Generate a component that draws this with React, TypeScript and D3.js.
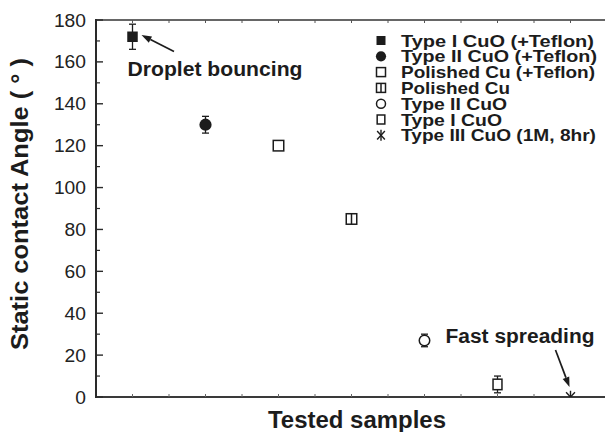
import React from "react";
import * as d3 from "d3";

const samples = [
  "Type I CuO (+Teflon)",
  "Type II CuO (+Teflon)",
  "Polished Cu (+Teflon)",
  "Polished Cu",
  "Type II CuO",
  "Type I CuO",
  "Type III CuO (1M, 8hr)",
];
const angles = [172, 130, 120, 85, 27, 6, 0];
const errors = [6, 4, 0, 0, 3, 4, 0];
const markers = ["sqFill", "circFill", "sqOpen", "sqHalf", "circOpen", "sqOpenSmall", "star"];
const yTicks = [0, 20, 40, 60, 80, 100, 120, 140, 160, 180];
const yMinor = [10, 30, 50, 70, 90, 110, 130, 150, 170];

const W = 605;
const H = 432;
const L = 96;
const T = 20;
const B = 397;
const INK = "#1c1c1c";
const FONT = "'Liberation Sans', Arial, Helvetica, sans-serif";

const x = d3.scaleLinear().domain([0, 14]).range([L, 607]);
const y = d3.scaleLinear().domain([0, 180]).range([B, T]);
const xTicks = d3.range(1, 15);

function Marker({ kind, cx, cy, s }: { kind: string; cx: number; cy: number; s: number }) {
  const h = s / 2;
  const sw = 1.5;
  switch (kind) {
    case "sqFill":
      return <rect x={cx - h} y={cy - h} width={s} height={s} fill={INK} />;
    case "circFill":
      return <circle cx={cx} cy={cy} r={h + 0.6} fill={INK} />;
    case "sqOpen":
      return <rect x={cx - h} y={cy - h} width={s} height={s} fill="#fff" stroke={INK} strokeWidth={sw} />;
    case "sqOpenSmall":
      return <rect x={cx - h * 0.85} y={cy - h} width={s * 0.85} height={s} fill="#fff" stroke={INK} strokeWidth={sw} />;
    case "sqHalf":
      return (
        <g>
          <rect x={cx - h} y={cy - h} width={s} height={s} fill="#fff" stroke={INK} strokeWidth={sw} />
          <line x1={cx} x2={cx} y1={cy - h} y2={cy + h} stroke={INK} strokeWidth={sw} />
        </g>
      );
    case "circOpen":
      return <circle cx={cx} cy={cy} r={h} fill="#fff" stroke={INK} strokeWidth={sw} />;
    case "star": {
      const r = h + 1;
      const a = (Math.PI / 180) * 40;
      return (
        <g stroke={INK} strokeWidth={1.4}>
          <line x1={cx} x2={cx} y1={cy - r} y2={cy + r} />
          <line x1={cx - r * Math.sin(a) * 1.1} x2={cx + r * Math.sin(a) * 1.1} y1={cy - r * Math.cos(a)} y2={cy + r * Math.cos(a)} />
          <line x1={cx + r * Math.sin(a) * 1.1} x2={cx - r * Math.sin(a) * 1.1} y1={cy - r * Math.cos(a)} y2={cy + r * Math.cos(a)} />
        </g>
      );
    }
    default:
      return null;
  }
}

function Arrow({ x1, y1, x2, y2 }: { x1: number; y1: number; x2: number; y2: number }) {
  const ang = Math.atan2(y2 - y1, x2 - x1);
  const len = 10;
  const wid = 3.5;
  const bx = x2 - len * Math.cos(ang);
  const by = y2 - len * Math.sin(ang);
  const px = -Math.sin(ang) * wid;
  const py = Math.cos(ang) * wid;
  return (
    <g>
      <line x1={x1} y1={y1} x2={bx} y2={by} stroke={INK} strokeWidth={1.7} />
      <path d={`M${x2},${y2}L${bx + px},${by + py}L${bx - px},${by - py}Z`} fill={INK} />
    </g>
  );
}

export default function App() {
  const legendX = 381;
  const legendY0 = 40.5;
  const legendDy = 15.8;
  const legendWidths = [193, 196, 194, 109, 106, 101, 195];
  return (
    <svg width={W} height={H} style={{ position: "absolute", left: 0, top: 0, background: "#fff" }} fontFamily={FONT}>
      <defs>
        <clipPath id="plotClip">
          <rect x={L} y={0} width={W - L} height={B - 0} />
        </clipPath>
      </defs>
      <rect x={0} y={0} width={W} height={H} fill="#fff" />

      {/* top frame */}
      <line x1={L} x2={W} y1={T} y2={T} stroke="#333" strokeWidth={1.6} />
      {xTicks.map((t) => (
        <line key={"tt" + t} x1={x(t)} x2={x(t)} y1={T} y2={T + 3} stroke="#555" strokeWidth={1} />
      ))}

      {/* bottom axis */}
      <line x1={L} x2={W} y1={B} y2={B} stroke="#3a3a3a" strokeWidth={1.8} />
      {xTicks.map((t) => (
        <line key={"bt" + t} x1={x(t)} x2={x(t)} y1={B} y2={B - 3} stroke="#666" strokeWidth={1} />
      ))}

      {/* left axis */}
      <line x1={L} x2={L} y1={T - 1} y2={B + 1} stroke="#2a2a2a" strokeWidth={2} />
      {yTicks.map((t) => (
        <line key={"yt" + t} x1={L} x2={L + 7} y1={y(t)} y2={y(t)} stroke="#2a2a2a" strokeWidth={1.4} />
      ))}
      {yMinor.map((t) => (
        <line key={"ym" + t} x1={L} x2={L + 4} y1={y(t)} y2={y(t)} stroke="#2a2a2a" strokeWidth={1.2} />
      ))}
      {yTicks.map((t) => (
        <text
          key={"yl" + t}
          transform={`translate(86,${y(t) + 6.6}) scale(1.04,1)`}
          textAnchor="end"
          fontSize={18.5}
          fill="#222"
        >
          {t}
        </text>
      ))}

      {/* axis titles */}
      <text
        transform={`translate(27.5,204) rotate(-90)`}
        textAnchor="middle"
        fontSize={23}
        fontWeight="bold"
        fill={INK}
        textLength={292}
        lengthAdjust="spacingAndGlyphs"
      >
        Static contact Angle ( ° )
      </text>
      <text
        x={357}
        y={428}
        textAnchor="middle"
        fontSize={23}
        fontWeight="bold"
        fill={INK}
        textLength={178}
        lengthAdjust="spacingAndGlyphs"
      >
        Tested samples
      </text>

      {/* data */}
      <g clipPath="url(#plotClip)">
        {samples.map((s, i) => {
          const cx = x(2 * i + 1);
          const cy = y(angles[i]);
          const e = errors[i];
          return (
            <g key={s}>
              {e > 0 && (
                <g stroke={INK} strokeWidth={1.3}>
                  <line x1={cx} x2={cx} y1={y(angles[i] + e)} y2={y(angles[i] - e)} />
                  <line x1={cx - 3.5} x2={cx + 3.5} y1={y(angles[i] + e)} y2={y(angles[i] + e)} />
                  <line x1={cx - 3.5} x2={cx + 3.5} y1={y(angles[i] - e)} y2={y(angles[i] - e)} />
                </g>
              )}
              <Marker kind={markers[i]} cx={cx} cy={cy} s={i === 1 ? 11 : 10.5} />
            </g>
          );
        })}
      </g>

      {/* legend */}
      {samples.map((s, i) => {
        const cy = legendY0 + i * legendDy;
        return (
          <g key={"lg" + s}>
            <Marker kind={markers[i]} cx={legendX} cy={cy} s={9} />
            <text
              x={401}
              y={cy + 6}
              fontSize={16.5}
              fontWeight="bold"
              fill={INK}
              textLength={legendWidths[i]}
              lengthAdjust="spacingAndGlyphs"
            >
              {s}
            </text>
          </g>
        );
      })}

      {/* annotations */}
      <text x={127.5} y={76} fontSize={20} fontWeight="bold" fill={INK} textLength={175} lengthAdjust="spacingAndGlyphs">
        Droplet bouncing
      </text>
      <Arrow x1={174} y1={51.5} x2={141.5} y2={35} />
      <text x={445.5} y={343} fontSize={20} fontWeight="bold" fill={INK} textLength={149} lengthAdjust="spacingAndGlyphs">
        Fast spreading
      </text>
      <Arrow x1={555.5} y1={350} x2={569.5} y2={387} />
    </svg>
  );
}
